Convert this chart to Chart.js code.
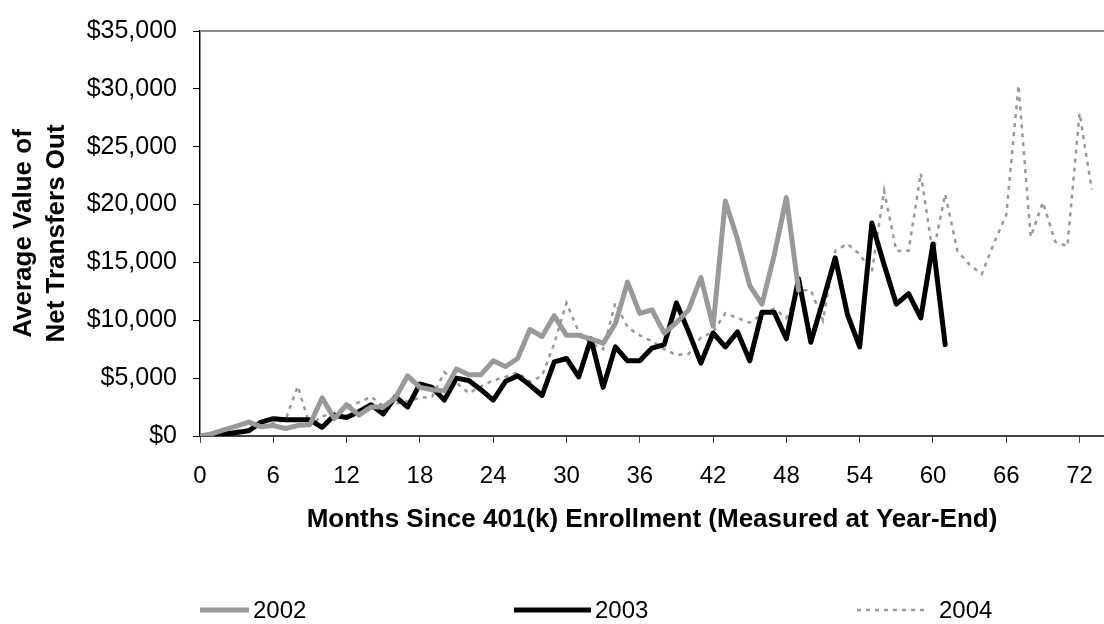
<!DOCTYPE html>
<html>
<head>
<meta charset="utf-8">
<script src="https://cdn.jsdelivr.net/npm/chart.js@4"></script>
<style>
  html, body { margin: 0; padding: 0; background: #fff; }
  #wrap { width: 1104px; height: 624px; position: relative; }
</style>
</head>
<body>
<div id="wrap"><canvas id="chart"></canvas></div>
<script>
// values, one per month since enrollment (starting at month 0)
const series2002 = [
  0, 200, 550, 850, 1200, 800, 900, 650, 900, 1000,
  3300, 1500, 2700, 1800, 2500, 2500, 3300, 5200, 4200, 4000,
  3900, 5800, 5300, 5300, 6500, 6000, 6700, 9200, 8600, 10400,
  8700, 8700, 8400, 8000, 9700, 13300, 10600, 10900, 8900, 9800,
  10900, 13700, 9500, 20300, 17000, 13000, 11400, 15600, 20600, 12600
];
const series2003 = [
  0, 80, 170, 300, 450, 1200, 1500, 1400, 1400, 1400,
  750, 1800, 1600, 2100, 2700, 1900, 3400, 2500, 4500, 4200,
  3100, 5000, 4800, 4000, 3100, 4700, 5200, 4400, 3500, 6400,
  6700, 5100, 8400, 4200, 7700, 6500, 6500, 7600, 7900, 11500,
  9000, 6300, 8900, 7700, 9000, 6500, 10700, 10700, 8400, 13600,
  8100, 11700, 15400, 10500, 7700, 18400, 14800, 11400, 12300, 10200,
  16600, 7900
];
const series2004 = [
  0, 80, 250, 450, 600, 900, 1100, 1400, 4300, 900,
  1700, 2000, 2500, 2900, 3400, 2600, 2800, 3000, 3300, 3400,
  5500, 4600, 3700, 4300, 4800, 5100, 5500, 4700, 5200, 8000,
  11500, 9000, 8000, 7500, 11500, 9400, 8700, 8200, 7500, 7000,
  7100, 8500, 9000, 10600, 10200, 9800, 10500, 11000, 10200, 12600,
  12600, 10000, 16000, 16600, 15700, 14200, 21200, 16000, 16000, 22700,
  15700, 20900, 16000, 14800, 14000, 16700, 19100, 30300, 17200, 20200,
  16800, 16400, 27900, 21300
];
const seriesNames = ['2002', '2003', '2004'];
const xTickStep = 6;
const yTicks = [0, 5000, 10000, 15000, 20000, 25000, 30000, 35000];

const FONT = '"Liberation Sans", Arial, sans-serif';

const toPoints = arr => arr.map((v, i) => ({ x: i, y: v }));

// legend drawn by hand so the three entries sit spread out like the original
const legendSpots = [
  { x0: 200, x1: 249, tx: 253 },
  { x0: 514, x1: 591, tx: 595 },
  { x0: 857, x1: 926, tx: 939 }
];
const legendY = 610;

const sideBits = {
  id: 'sideBits',
  beforeDatasetsDraw(chart) {
    const { ctx, chartArea } = chart;
    // grey top edge of plot area
    ctx.save();
    ctx.strokeStyle = '#8c8c8c';
    ctx.lineWidth = 2;
    ctx.beginPath();
    ctx.moveTo(chartArea.left, chartArea.top);
    ctx.lineTo(chartArea.right, chartArea.top);
    ctx.stroke();
    ctx.restore();
  },
  afterDraw(chart) {
    const { ctx } = chart;
    ctx.save();
    chart.data.datasets.forEach((ds, i) => {
      const s = legendSpots[i];
      ctx.strokeStyle = ds.borderColor;
      ctx.lineWidth = ds.borderWidth;
      ctx.setLineDash(ds.borderDash || []);
      ctx.lineCap = 'butt';
      ctx.beginPath();
      ctx.moveTo(s.x0, legendY);
      ctx.lineTo(s.x1, legendY);
      ctx.stroke();
      ctx.setLineDash([]);
      ctx.fillStyle = '#000';
      ctx.font = '24px ' + FONT;
      ctx.textBaseline = 'middle';
      ctx.textAlign = 'left';
      ctx.fillText(ds.label, s.tx, legendY + 1);
    });
    ctx.restore();
  }
};

new Chart(document.getElementById('chart'), {
  type: 'line',
  data: {
    datasets: [
      {
        label: seriesNames[0],
        data: toPoints(series2002),
        borderColor: '#999999',
        borderWidth: 5,
        borderJoinStyle: 'round',
        borderCapStyle: 'round'
      },
      {
        label: seriesNames[1],
        data: toPoints(series2003),
        borderColor: '#000000',
        borderWidth: 5,
        borderJoinStyle: 'round',
        borderCapStyle: 'round'
      },
      {
        label: seriesNames[2],
        data: toPoints(series2004),
        borderColor: '#999999',
        borderWidth: 2.5,
        borderDash: [4, 5]
      }
    ]
  },
  options: {
    responsive: true,
    maintainAspectRatio: false,
    animation: false,
    devicePixelRatio: 1,
    layout: { padding: { top: 21, right: 0, bottom: 80, left: 0 } },
    elements: {
      point: { radius: 0, hoverRadius: 0 },
      line: { tension: 0, fill: false }
    },
    plugins: {
      legend: { display: false },
      tooltip: { enabled: false }
    },
    scales: {
      x: {
        type: 'linear',
        min: 0,
        max: 74,
        border: { color: '#444', width: 2 },
        grid: { drawOnChartArea: false, drawTicks: true, tickLength: 7, color: '#444' },
        ticks: {
          stepSize: xTickStep,
          includeBounds: false,
          autoSkip: false,
          maxRotation: 0,
          padding: 19,
          color: '#000',
          font: { family: FONT, size: 24 }
        },
        title: {
          display: true,
          text: 'Months Since 401(k) Enrollment (Measured at Year-End)',
          color: '#000',
          font: { family: FONT, size: 26, weight: 'bold', lineHeight: 1.2 },
          padding: { top: 0, bottom: 9 }
        },
        afterFit: s => {
          s.height = 108;
          // plot runs right up to the edge, no room kept for the last label
          s.paddingLeft = 0;
          s.paddingRight = 0;
        }
      },
      y: {
        min: 0,
        max: 35000,
        border: { color: '#000', width: 1.5 },
        grid: { drawOnChartArea: false, drawTicks: true, tickLength: 7, color: '#000' },
        afterBuildTicks: s => { s.ticks = yTicks.map(v => ({ value: v })); },
        ticks: {
          padding: 16,
          color: '#000',
          font: { family: FONT, size: 25 },
          callback: v => '$' + Number(v).toLocaleString('en-US')
        },
        title: {
          display: true,
          text: ['Average Value of', 'Net Transfers Out'],
          color: '#000',
          font: { family: FONT, size: 26, weight: 'bold', lineHeight: 1.27 },
          padding: { top: 7.5, bottom: 0 }
        },
        afterFit: s => { s.width = 200; }
      }
    }
  },
  plugins: [sideBits]
});
</script>
</body>
</html>
